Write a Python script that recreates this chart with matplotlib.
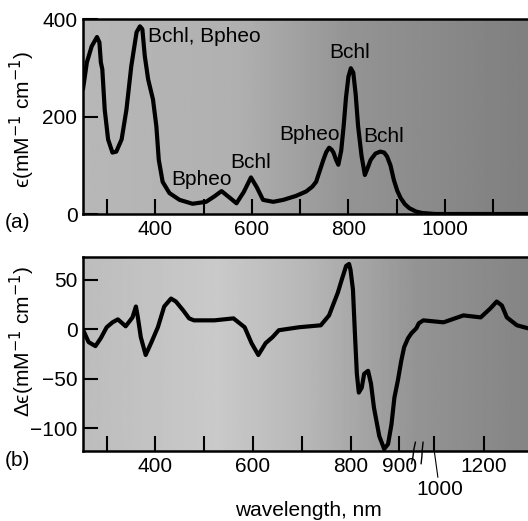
import numpy as np
import matplotlib
matplotlib.use("Agg")
import matplotlib.pyplot as plt
from matplotlib.transforms import blended_transform_factory

# ---------------- data ----------------
# (a) absorption spectrum
wl_a = [250, 258, 268, 279, 284, 287, 290, 295, 302, 311,
        319, 330, 340, 350, 361, 368, 373, 378, 385, 395,
        402, 407, 415, 429, 450, 477, 505, 522, 537, 552,
        568, 583, 598, 610, 623, 644, 665, 691, 712, 725,
        733, 741, 748, 754, 760, 765, 769, 774, 779, 785,
        790, 795, 800, 805, 810, 815, 820, 827, 834, 840,
        846, 856, 866, 874, 880, 887, 894, 901, 908, 917,
        926, 940, 953, 980, 1050, 1172]
eps_a = [256, 311, 344, 363, 352, 311, 297, 214, 153, 126,
         128, 153, 214, 303, 373, 385, 379, 324, 276, 235,
         180, 111, 66, 43, 29, 21, 25, 36, 47, 35,
         22, 45, 75, 55, 29, 25, 29, 37, 46, 56,
         66, 90, 111, 127, 136, 132, 126, 112, 101, 130,
         180, 240, 282, 299, 290, 245, 180, 120, 80, 95,
         111, 124, 128, 126, 118, 100, 70, 48, 33, 20,
         12, 5, 2, 0, 0, 0]

# (b) circular dichroism spectrum
wl_b = [252, 263, 277, 288, 300, 312, 323, 339, 353, 360,
        364, 370, 380, 391, 405, 418, 432, 442, 457, 469,
        479, 521, 560, 583, 597, 611, 626, 640, 653, 694,
        739, 756, 763, 774, 782, 791, 797, 800, 805, 809,
        813, 817, 823, 828, 836, 842, 848, 859, 869, 877,
        884, 890, 897, 904, 910, 918, 925, 935, 940, 955,
        1037, 1118, 1188, 1227, 1253, 1274, 1294, 1335, 1380]
deps_b = [-1, -13, -17, -9, 2, 7, 10, 3, 12, 23,
          12, -8, -26, -14, 2, 23, 31, 28, 19, 11,
          9, 9, 11, 2, -14, -26, -14, -8, -1, 2,
          4, 14, 23, 37, 50, 64, 66, 60, 40, -4,
          -45, -64, -59, -45, -42, -55, -79, -108, -121, -116,
          -96, -69, -52, -32, -18, -9, -4, 1, 6, 9,
          7, 14, 12, 21, 28, 24, 12, 4, 1]

labels_a = ["Bchl, Bpheo", "Bpheo", "Bchl", "Bpheo", "Bchl", "Bchl"]
label_x = [384, 495, 598, 720, 803, 873]
label_y = [365, 70, 105, 163, 332, 159]
label_ha = ["left", "center", "center", "center", "center", "center"]

xt_a_major = [400, 600, 800, 1000]
xt_a_minor = [300, 500, 700, 900, 1100]
yt_a = [0, 200, 400]
xt_b_major = [400, 600, 800, 900, 1200]
xt_b_minor = [300, 500, 700, 1000]
yt_b = [50, 0, -50, -100]

# ---------------- style ----------------
plt.rcParams['font.family'] = ['Liberation Sans', 'DejaVu Sans']
plt.rcParams['mathtext.fontset'] = 'dejavusans'
FS = 15

W, H = 528, 521
fig = plt.figure(figsize=(W / 100, H / 100), dpi=100)

def px_axes(l, t, r, b):
    return fig.add_axes([l / W, 1 - b / H, (r - l) / W, (b - t) / H])

axa = px_axes(83, 19, 528, 214)
axb = px_axes(83, 257, 528, 451)

def background(ax, stops):
    xs = np.linspace(0, 1, 200)
    pos = [s[0] for s in stops]
    val = [s[1] for s in stops]
    g = np.interp(xs, pos, val)[None, :]
    ax.imshow(g, extent=[0, 1, 0, 1], transform=ax.transAxes, aspect='auto',
              cmap='gray', vmin=0, vmax=1, zorder=0, interpolation='bilinear')

# ---- panel (a)
background(axa, [(0, 0.72), (0.35, 0.69), (0.6, 0.58), (1, 0.50)])
axa.plot(wl_a, eps_a, color='black', lw=3.0, solid_joinstyle='round',
         solid_capstyle='round', zorder=3)
axa.set_xlim(250, 1172)
axa.set_ylim(0, 400)
axa.set_xticks(xt_a_major)
axa.set_xticks(xt_a_minor, minor=True)
axa.set_yticks(yt_a)
axa.tick_params(axis='both', which='both', direction='in', length=11, width=1.5,
                labelsize=FS, pad=4, color='black')
axa.tick_params(axis='x', which='minor', labelbottom=False)
for t, x, y, ha in zip(labels_a, label_x, label_y, label_ha):
    axa.text(x, y, t, ha=ha, va='center', fontsize=FS, zorder=4)

# ---- panel (b) with broken wavelength axis
BREAK = 943.0
SLOPE = 0.505

def fwd(x):
    x = np.asarray(x, dtype=float)
    return np.where(x <= BREAK, x, 972 + (x - 1000) * SLOPE)

def inv(u):
    u = np.asarray(u, dtype=float)
    return np.where(u <= BREAK, u, 1000 + (u - 972) / SLOPE)

axb.set_xscale('function', functions=(fwd, inv))
background(axb, [(0, 0.74), (0.3, 0.79), (0.5, 0.72), (0.75, 0.58), (1, 0.52)])
axb.plot(wl_b, deps_b, color='black', lw=3.0, solid_joinstyle='round',
         solid_capstyle='round', zorder=3)
axb.set_xlim(251.5, 1380)
axb.set_ylim(-123, 73)
axb.set_xticks(xt_b_major)
axb.set_xticks(xt_b_minor, minor=True)
axb.set_xticklabels([str(v) for v in xt_b_major])
axb.set_yticks(yt_b)
axb.tick_params(axis='both', which='both', direction='in', length=11, width=1.5,
                labelsize=FS, pad=4, color='black')
axb.tick_params(axis='x', which='minor', labelbottom=False)

# "1000" label with leader line
axb.annotate('1000', xy=(1000, -124), xytext=(1021, -162), fontsize=FS,
             ha='center', va='center', annotation_clip=False,
             arrowprops=dict(arrowstyle='-', lw=0.8, color='black',
                             shrinkA=0, shrinkB=0))

# break marks on the axis
tr = blended_transform_factory(axb.transData, axb.transAxes)
for bx in (929, 950):
    xs = [bx - 4, bx - 1, bx + 1, bx + 4]
    ys = [-0.065, -0.03, 0.01, 0.045]
    axb.plot(xs, ys, transform=tr, color='black', lw=1.0, clip_on=False, zorder=5)

for ax in (axa, axb):
    for side in ('top', 'bottom', 'left'):
        ax.spines[side].set_linewidth(1.8)
        ax.spines[side].set_color('black')
    ax.spines['right'].set_visible(False)

# ---- outer labels
fig.text(22 / W, 1 - 120 / H, 'ϵ(mM$^{-1}$ cm$^{-1}$)', rotation=90,
         ha='center', va='center', fontsize=FS)
fig.text(22 / W, 1 - 342 / H, 'Δϵ(mM$^{-1}$ cm$^{-1}$)', rotation=90,
         ha='center', va='center', fontsize=FS)
fig.text(5 / W, 1 - 222 / H, '(a)', ha='left', va='center', fontsize=FS)
fig.text(5 / W, 1 - 460 / H, '(b)', ha='left', va='center', fontsize=FS)
fig.text(308 / W, 1 - 510 / H, 'wavelength, nm', ha='center', va='center', fontsize=FS)

fig.savefig('out.png', dpi=100)
